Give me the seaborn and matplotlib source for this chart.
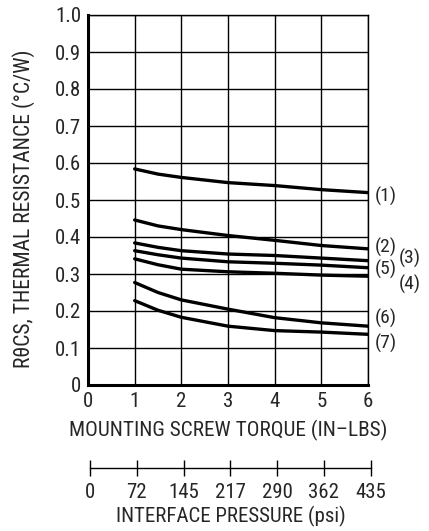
import matplotlib
matplotlib.use("Agg")
import matplotlib.pyplot as plt
import seaborn as sns
import pandas as pd

# Thermal resistance vs mounting screw torque
torque = [1, 1.5, 2, 3, 4, 5, 6]
curve_1 = [0.584, 0.570, 0.561, 0.547, 0.539, 0.528, 0.520]
curve_2 = [0.446, 0.430, 0.420, 0.404, 0.391, 0.377, 0.368]
curve_3 = [0.384, 0.372, 0.363, 0.354, 0.350, 0.343, 0.336]
curve_4 = [0.341, 0.325, 0.313, 0.306, 0.302, 0.297, 0.294]
curve_5 = [0.363, 0.352, 0.343, 0.333, 0.329, 0.324, 0.317]
curve_6 = [0.277, 0.250, 0.230, 0.205, 0.182, 0.168, 0.159]
curve_7 = [0.228, 0.202, 0.183, 0.159, 0.147, 0.143, 0.137]

curve_names = ["(1)", "(2)", "(3)", "(4)", "(5)", "(6)", "(7)"]
torque_ticks = [0, 1, 2, 3, 4, 5, 6]
resistance_ticks = [0, 0.1, 0.2, 0.3, 0.4, 0.5, 0.6, 0.7, 0.8, 0.9, 1.0]
resistance_tick_labels = ["0", "0.1", "0.2", "0.3", "0.4", "0.5", "0.6", "0.7", "0.8", "0.9", "1.0"]
pressure_ticks = [0, 72, 145, 217, 290, 362, 435]

FONT = ["Roboto Condensed", "Liberation Sans Narrow", "Liberation Sans", "DejaVu Sans"]

sns.set_style("white")
plt.rcParams["font.family"] = FONT
plt.rcParams["font.size"] = 14

curves = [curve_1, curve_2, curve_3, curve_4, curve_5, curve_6, curve_7]
df = pd.DataFrame({
    "torque": torque * len(curves),
    "resistance": [v for c in curves for v in c],
    "curve": [n for n in curve_names for _ in torque],
})

fig = plt.figure(figsize=(4.29, 5.31), dpi=100)
left, width = 88 / 429, 280 / 429
ax = fig.add_axes([left, 146 / 531, width, 370 / 531])

sns.lineplot(data=df, x="torque", y="resistance", units="curve", estimator=None,
             color="black", linewidth=2.4, ax=ax, legend=False)

ax.set_xlim(0, 6)
ax.set_ylim(0, 1.0)
ax.set_xticks(torque_ticks)
ax.set_yticks(resistance_ticks)
ax.set_yticklabels(resistance_tick_labels)
ax.grid(True, color="black", linewidth=1.0)
ax.tick_params(length=0, labelsize=15)
ax.tick_params(axis="x", pad=5)
ax.tick_params(axis="y", pad=5)
for side in ["left", "bottom"]:
    ax.spines[side].set_linewidth(2.2)
for side in ["top", "right"]:
    ax.spines[side].set_linewidth(1.0)
for s in ax.spines.values():
    s.set_color("black")
ax.set_xlabel("MOUNTING SCREW TORQUE (IN\u2013LBS)", fontsize=15.3)
ax.set_ylabel("R\u03b8CS, THERMAL RESISTANCE (\u00b0C/W)", fontsize=15.6)
ax.xaxis.set_label_coords(0.5, -0.095)
ax.yaxis.set_label_coords(-0.19, 0.476)

# curve labels at the right edge
label_pos = {
    "(1)": (6.15, 0.509), "(2)": (6.15, 0.373), "(3)": (6.66, 0.343),
    "(5)": (6.15, 0.313), "(4)": (6.66, 0.273), "(6)": (6.15, 0.181),
    "(7)": (6.15, 0.113),
}
for name in curve_names:
    x, y = label_pos[name]
    ax.text(x, y, name, fontsize=14, ha="left", va="center", clip_on=False)

# secondary interface pressure scale
ax2 = fig.add_axes([90 / 429, (531 - 468) / 531, 281 / 429, 0.0001])
ax2.set_xlim(0, 435)
ax2.set_xticks(pressure_ticks)
ax2.set_yticks([])
for side in ["left", "right", "top"]:
    ax2.spines[side].set_visible(False)
ax2.spines["bottom"].set_linewidth(1.0)
ax2.spines["bottom"].set_color("black")
ax2.tick_params(axis="x", bottom=True, direction="inout", length=11, width=1.0,
                color="black", labelsize=15, pad=5)
ax2.set_xlabel("INTERFACE PRESSURE (psi)", fontsize=15, labelpad=3)

fig.savefig("out.png", dpi=100)
